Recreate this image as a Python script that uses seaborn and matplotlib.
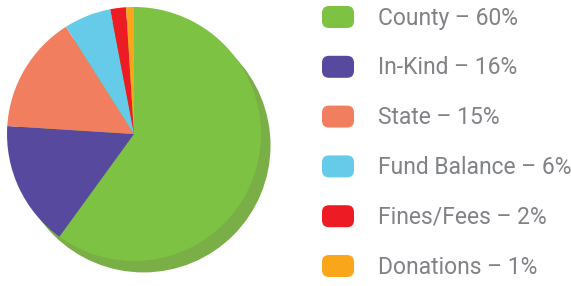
import matplotlib
matplotlib.use("Agg")
import matplotlib.pyplot as plt
from matplotlib.patches import Circle, FancyBboxPatch
import seaborn as sns

# revenue sources (percent)
labels = ["County", "In-Kind", "State", "Fund Balance", "Fines/Fees", "Donations"]
values = [60, 16, 15, 6, 2, 1]
colors = ["#7dc243", "#574a9e", "#f27e60", "#66cbe9", "#ed1c24", "#faa61a"]

sns.set_theme(style="white")
plt.rcParams["font.family"] = ["Roboto", "DejaVu Sans"]

W, H = 571, 286
fig = plt.figure(figsize=(W / 100, H / 100), dpi=100)

# pie axes: 127 px per data unit, centre at (134, 134) px
R = 127.0
ax = fig.add_axes([0, 0, 290 / W, 1])

# drop shadow behind the pie
ax.add_patch(Circle((0.075, -0.09), 1.0, color="#7aae46", lw=0, zorder=0))
ax.pie(values, colors=sns.color_palette(colors), startangle=90, counterclock=False,
       radius=1.0, wedgeprops=dict(linewidth=0))
ax.set_xlim(-134 / R, (290 - 134) / R)
ax.set_ylim(-(H - 134) / R, 134 / R)
ax.set_aspect("equal")
ax.axis("off")

# legend drawn in pixel coordinates
lax = fig.add_axes([0, 0, 1, 1])
lax.set_xlim(0, W)
lax.set_ylim(H, 0)
lax.axis("off")
for i, (lab, val, col) in enumerate(zip(labels, values, colors)):
    yc = 17 + 49.8 * i
    lax.add_patch(FancyBboxPatch((322 + 7, yc - 11 + 7), 32 - 14, 22 - 14,
                                 boxstyle="round,pad=7", fc=col, ec="none"))
    lax.text(378, yc + 1, f"{lab} \u2013 {val}%", color="#808285",
             fontsize=16.5, va="center", ha="left")

fig.savefig("out.png", dpi=100)
